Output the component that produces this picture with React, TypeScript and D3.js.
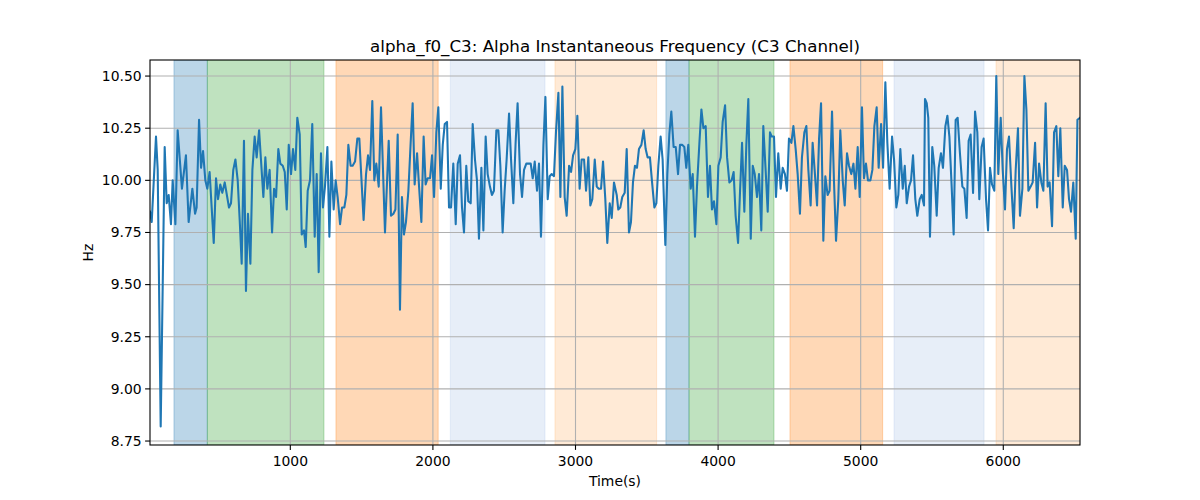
import React from "react";
import * as d3 from "d3";

const TITLE = "alpha_f0_C3: Alpha Instantaneous Frequency (C3 Channel)";
const X_LABEL = "Time(s)";
const Y_LABEL = "Hz";
const X_TICKS = [1000, 2000, 3000, 4000, 5000, 6000];
const Y_TICKS = [8.75, 9.0, 9.25, 9.5, 9.75, 10.0, 10.25, 10.5];
const Y_DOMAIN: [number, number] = [8.731, 10.577];

const times = [
  16, 28, 58, 70, 91, 119, 133, 147, 163, 175, 194, 210, 240, 268, 287, 313, 332, 343, 360, 374, 388, 404, 418, 434, 463, 479, 493, 509, 523, 540, 570, 584, 600, 615, 631, 645, 659, 675, 689, 703, 720, 734, 750, 764, 781, 811, 825, 839, 855, 872, 886, 900, 916, 930, 947, 961, 975, 989, 1005, 1019, 1035, 1049, 1066, 1080, 1096,
  1108, 1122, 1138, 1154, 1171, 1185, 1199, 1215, 1229, 1243, 1260, 1274, 1288, 1304, 1318, 1332, 1349, 1363, 1379, 1393, 1407, 1423, 1437, 1454, 1470, 1484, 1500, 1514, 1531, 1545, 1559, 1575, 1589, 1603, 1620, 1636, 1664, 1690, 1706, 1723, 1737, 1753, 1769, 1783, 1797, 1811, 1828, 1844, 1858, 1872, 1889, 1903, 1919, 1935, 1949, 1963, 1980, 1994, 2008, 2024, 2038, 2055, 2069, 2083, 2099, 2113, 2127, 2143, 2160, 2174,
  2190, 2204, 2218, 2234, 2248, 2265, 2279, 2295, 2309, 2323, 2340, 2354, 2370, 2384, 2400, 2414, 2428, 2445, 2459, 2473, 2489, 2503, 2517, 2534, 2548, 2564, 2580, 2594, 2611, 2625, 2639, 2655, 2669, 2686, 2700, 2714, 2730, 2744, 2758, 2775, 2789, 2805, 2819, 2833, 2849, 2863, 2880, 2894, 2908, 2924, 2938, 2955, 2969, 2983, 2999, 3013, 3029, 3043, 3060, 3074, 3090, 3104, 3118, 3135, 3149, 3163, 3179, 3193, 3209, 3223, 3240, 3254,
  3270, 3289, 3300, 3314, 3328, 3345, 3359, 3375, 3389, 3403, 3417, 3431, 3445, 3462, 3478, 3492, 3506, 3522, 3537, 3553, 3567, 3581, 3597, 3611, 3630, 3644, 3658, 3672, 3688, 3703, 3719, 3733, 3749, 3763, 3777, 3791, 3808, 3822, 3838, 3852, 3869, 3883, 3897, 3913, 3929, 3943, 3957, 3971, 3988, 4002, 4018, 4032, 4049, 4063, 4079, 4095, 4109, 4123, 4140, 4154, 4168, 4184, 4198, 4212, 4229, 4243, 4257, 4273, 4287, 4303, 4317, 4334, 4348,
  4364, 4376, 4392, 4406, 4422, 4439, 4453, 4469, 4483, 4497, 4514, 4528, 4544, 4558, 4574, 4588, 4605, 4619, 4633, 4649, 4663, 4677, 4694, 4708, 4722, 4738, 4752, 4768, 4782, 4799, 4813, 4827, 4843, 4857, 4874, 4888, 4904, 4918, 4934, 4949, 4963, 4979, 4993, 5009, 5023, 5037, 5051, 5068, 5082, 5096, 5112, 5126, 5143, 5157, 5173, 5187, 5203, 5220, 5234, 5250, 5264, 5278, 5295, 5309, 5323, 5339, 5353, 5367, 5383, 5397, 5414, 5428, 5444,
  5451, 5463, 5474, 5486, 5502, 5516, 5533, 5547, 5563, 5577, 5594, 5608, 5622, 5638, 5652, 5666, 5680, 5696, 5713, 5727, 5743, 5757, 5771, 5788, 5802, 5818, 5832, 5848, 5862, 5879, 5893, 5907, 5921, 5937, 5951, 5965, 5982, 5996, 6012, 6026, 6040, 6057, 6073, 6087, 6103, 6117, 6134, 6148, 6162, 6176, 6192, 6206, 6223, 6237, 6251, 6267, 6281, 6297, 6311, 6325, 6342, 6356, 6372, 6386, 6400, 6417, 6431, 6447, 6461, 6475, 6491, 6508, 6520, 6538,
];

const freqHz = [
  9.85, 9.8, 10.21, 10.05, 8.82, 10.16, 9.89, 9.93, 9.79, 10.0, 9.79, 10.24, 9.96, 10.12, 9.8, 9.96, 9.84, 9.87, 10.29, 10.06, 10.14, 10.0, 9.96, 10.04, 9.7, 10.01, 9.91, 9.98, 9.94, 9.99, 9.87, 9.89, 10.05, 10.1, 10.0, 9.81, 9.6, 10.19, 9.47, 9.84, 9.6, 10.05, 10.21, 10.11, 10.24, 9.92, 10.11, 9.96, 10.05, 9.75, 9.96, 9.92, 10.15, 10.08, 10.07, 10.04, 9.86, 10.17, 10.03, 10.15, 10.05, 10.3, 10.22, 9.74, 9.76,
  9.68, 9.95, 10.0, 10.27, 9.73, 10.03, 9.56, 10.13, 9.87, 9.97, 10.16, 9.73, 10.09, 9.86, 10.0, 9.92, 9.79, 9.87, 9.87, 9.93, 10.17, 10.07, 10.07, 10.09, 10.2, 10.2, 9.99, 9.81, 10.03, 10.12, 10.05, 10.38, 10.0, 10.08, 9.97, 10.35, 9.75, 10.19, 9.83, 9.84, 9.86, 10.22, 9.38, 9.92, 9.74, 9.8, 9.95, 10.18, 10.37, 9.98, 10.13, 9.97, 9.8, 10.21, 9.98, 10.01, 10.01, 10.12, 9.92, 10.23, 10.35, 9.96, 10.17, 10.27, 10.28, 9.87, 9.87, 10.08, 9.79, 10.08,
  10.12, 9.87, 9.75, 10.07, 9.9, 9.89, 10.27, 10.1, 10.0, 9.72, 10.06, 9.76, 10.21, 10.03, 9.97, 9.93, 9.95, 10.24, 10.24, 10.07, 9.75, 9.95, 10.1, 10.32, 10.1, 9.89, 10.18, 10.37, 10.03, 9.92, 10.05, 10.08, 10.08, 10.08, 10.01, 10.09, 9.95, 10.08, 9.73, 10.17, 10.4, 9.91, 10.02, 10.03, 10.02, 10.23, 10.42, 9.92, 10.45, 9.92, 9.83, 10.07, 10.04, 10.12, 10.15, 10.31, 9.96, 10.1, 10.1, 9.95, 10.11, 9.88, 9.91, 10.1, 9.97, 9.96, 9.96, 10.09, 9.91, 9.7, 9.89, 9.82,
  9.99, 9.93, 9.86, 9.87, 9.92, 9.94, 10.15, 9.75, 9.8, 9.99, 10.07, 10.06, 10.15, 10.17, 10.24, 10.15, 10.11, 10.11, 9.99, 9.87, 9.89, 10.07, 10.21, 10.1, 9.69, 10.03, 10.22, 10.33, 10.16, 10.16, 10.03, 10.17, 10.17, 10.16, 10.06, 10.17, 9.96, 10.03, 9.73, 9.97, 10.18, 10.34, 10.25, 10.26, 9.92, 10.07, 9.86, 9.9, 9.79, 10.07, 10.11, 10.28, 10.36, 10.11, 9.99, 10.0, 10.04, 9.83, 9.7, 9.95, 10.18, 9.85, 10.17, 10.39, 9.72, 10.07, 10.03, 9.92, 10.03, 9.76, 10.26, 10.04, 9.85,
  10.23, 10.21, 10.21, 9.92, 10.13, 9.96, 10.06, 10.03, 9.95, 10.2, 10.18, 10.26, 10.15, 10.03, 9.84, 10.11, 10.23, 10.26, 10.05, 9.88, 10.18, 10.05, 9.88, 10.2, 10.37, 9.71, 10.02, 9.93, 9.95, 10.33, 9.99, 9.71, 9.91, 10.24, 10.0, 9.88, 10.13, 10.07, 10.03, 10.08, 9.96, 10.16, 9.92, 10.35, 10.01, 10.08, 10.0, 10.0, 10.05, 10.26, 10.35, 10.06, 10.27, 10.06, 10.47, 10.18, 9.96, 10.21, 10.1, 9.87, 9.93, 10.15, 9.96, 10.07, 9.89, 9.97, 10.0, 10.12, 9.91, 9.83, 9.91, 9.93, 9.88,
  10.39, 10.37, 10.3, 9.73, 10.16, 10.07, 9.83, 10.06, 10.13, 10.06, 10.26, 10.31, 10.21, 9.97, 9.74, 10.29, 10.3, 10.13, 9.97, 9.96, 9.82, 10.19, 10.22, 9.94, 10.33, 10.23, 9.91, 10.16, 10.2, 9.91, 9.76, 10.06, 9.98, 9.95, 10.5, 10.03, 10.3, 10.05, 9.86, 10.15, 10.21, 9.97, 9.77, 10.05, 10.25, 9.83, 9.96, 10.5, 10.34, 9.95, 9.97, 9.99, 10.18, 9.87, 10.08, 9.99, 9.95, 10.37, 9.97, 9.99, 9.78, 10.23, 10.26, 10.02, 10.25, 9.87, 10.07, 10.05, 9.91, 9.85, 9.99, 9.72, 10.29, 10.3,
];

const spanStarts = [184, 418, 1320, 2122, 2856, 3634, 3796, 4504, 5234, 5949];
const spanEnds = [418, 1236, 2037, 2786, 3569, 3796, 4392, 5154, 5865, 6538];
const spanColors = ["#1f77b4", "#2ca02c", "#ff7f0e", "#aec7e8", "#ffbb78", "#1f77b4", "#2ca02c", "#ff7f0e", "#aec7e8", "#ffbb78"];

const W = 1200;
const H = 500;
const M = { left: 150, right: 1080, top: 60, bottom: 445 };
const FONT = "DejaVu Sans, sans-serif";

export default function App() {
  const n = Math.min(times.length, freqHz.length);
  const pts = d3.range(n).map((i) => ({ t: times[i], v: freqHz[i] }));
  const x = d3.scaleLinear().domain(d3.extent(times) as [number, number]).range([M.left, M.right]);
  const y = d3.scaleLinear().domain(Y_DOMAIN).range([M.bottom, M.top]);
  const line = d3
    .line<{ t: number; v: number }>()
    .x((d) => x(d.t))
    .y((d) => y(d.v));

  return (
    <svg width={W} height={H} style={{ position: "absolute", left: 0, top: 0, background: "#fff" }} fontFamily={FONT}>
      <defs>
        <clipPath id="plotclip">
          <rect x={M.left} y={M.top} width={M.right - M.left} height={M.bottom - M.top} />
        </clipPath>
      </defs>
      <g clipPath="url(#plotclip)">
        {spanStarts.map((s, i) => (
          <rect
            key={"s" + i}
            x={x(s)}
            y={M.top}
            width={x(spanEnds[i]) - x(s)}
            height={M.bottom - M.top}
            fill={spanColors[i]}
            fillOpacity={0.3}
            stroke={spanColors[i]}
            strokeOpacity={0.3}
            strokeWidth={1}
          />
        ))}
        {X_TICKS.map((t) => (
          <line key={"gx" + t} x1={x(t)} x2={x(t)} y1={M.top} y2={M.bottom} stroke="#b0b0b0" strokeWidth={1.1} />
        ))}
        {Y_TICKS.map((t) => (
          <line key={"gy" + t} x1={M.left} x2={M.right} y1={y(t)} y2={y(t)} stroke="#b0b0b0" strokeWidth={1.1} />
        ))}
        <path d={line(pts) || ""} fill="none" stroke="#1f77b4" strokeWidth={2.08} strokeLinejoin="round" strokeLinecap="square" />
      </g>
      <rect x={M.left} y={M.top} width={M.right - M.left} height={M.bottom - M.top} fill="none" stroke="#000" strokeWidth={1.1} />
      {X_TICKS.map((t) => (
        <g key={"tx" + t}>
          <line x1={x(t)} x2={x(t)} y1={M.bottom} y2={M.bottom + 4.9} stroke="#000" strokeWidth={1.1} />
          <text x={x(t)} y={M.bottom + 21} textAnchor="middle" fontSize={13.9} fill="#000">
            {t}
          </text>
        </g>
      ))}
      {Y_TICKS.map((t) => (
        <g key={"ty" + t}>
          <line x1={M.left - 4.9} x2={M.left} y1={y(t)} y2={y(t)} stroke="#000" strokeWidth={1.1} />
          <text x={M.left - 8.4} y={y(t)} dy="0.35em" textAnchor="end" fontSize={13.9} fill="#000">
            {t.toFixed(2)}
          </text>
        </g>
      ))}
      <text x={(M.left + M.right) / 2} y={52} textAnchor="middle" fontSize={16.7} fill="#000">
        {TITLE}
      </text>
      <text x={(M.left + M.right) / 2} y={486} textAnchor="middle" fontSize={13.9} fill="#000">
        {X_LABEL}
      </text>
      <text transform={`translate(93, ${(M.top + M.bottom) / 2}) rotate(-90)`} textAnchor="middle" fontSize={13.9} fill="#000">
        {Y_LABEL}
      </text>
    </svg>
  );
}
